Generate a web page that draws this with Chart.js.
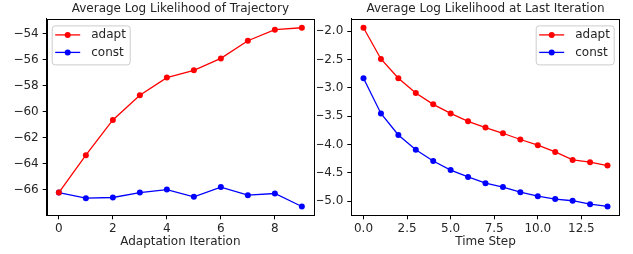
<!DOCTYPE html>
<html lang="en">
  <head>
    <meta charset="UTF-8" />
    <title>Average Log Likelihood</title>
    <script src="https://cdn.jsdelivr.net/npm/chart.js"></script>
    <style>
      body {
        margin: 0;
        background: #ffffff;
      }
      .wrap {
        position: relative;
        width: 633px;
        height: 254px;
      }
      .panel {
        position: absolute;
        top: 0;
        height: 254px;
      }
    </style>
  </head>
  <body>
    <div class="wrap">
      <div class="panel" style="left: 0; width: 317px">
        <canvas id="trajChart"></canvas>
      </div>
      <div class="panel" style="left: 317px; width: 316px">
        <canvas id="lastChart"></canvas>
      </div>
    </div>
    <script>
      // left panel: per adaptation iteration
      const iterSteps = [0, 1, 2, 3, 4, 5, 6, 7, 8, 9];
      const trajAdapt = [-66.23, -63.35, -60.64, -58.74, -57.38, -56.82, -55.9, -54.54, -53.69, -53.54];
      const trajConst = [-66.23, -66.66, -66.61, -66.23, -66.0, -66.56, -65.81, -66.43, -66.3, -67.3];
      const trajXTicks = [0, 2, 4, 6, 8];
      const trajYTicks = [-66, -64, -62, -60, -58, -56, -54];

      // right panel: per time step
      const timeSteps = [0, 1, 2, 3, 4, 5, 6, 7, 8, 9, 10, 11, 12, 13, 14];
      const lastAdapt = [-1.94, -2.49, -2.83, -3.09, -3.29, -3.45, -3.59, -3.7, -3.8, -3.91, -4.01, -4.13, -4.27, -4.31, -4.37];
      const lastConst = [-2.83, -3.45, -3.83, -4.09, -4.29, -4.45, -4.57, -4.68, -4.75, -4.84, -4.91, -4.96, -4.99, -5.05, -5.09];
      const lastXTicks = [0, 2.5, 5, 7.5, 10, 12.5];
      const lastYTicks = [-5.0, -4.5, -4.0, -3.5, -3.0, -2.5, -2.0];

      const FONT = "DejaVu Sans";

      function minus(s) {
        return s.replace("-", "\u2212");
      }

      // box around plot area + matplotlib style legend inside it
      const framePlugin = {
        id: "frame",
        afterDraw(chart, args, opts) {
          const ctx = chart.ctx;
          const a = chart.chartArea;
          ctx.save();
          ctx.strokeStyle = "#000";
          ctx.lineWidth = 1;
          ctx.strokeRect(Math.round(a.left) + 0.5, Math.round(a.top) + 0.5,
            Math.round(a.right - a.left), Math.round(a.bottom - a.top));

          // legend
          const w = 78, h = 39;
          const bx = opts.side === "left" ? a.left + 5 : a.right - 6 - w;
          const by = a.top + 6.5;
          ctx.fillStyle = "rgba(255,255,255,0.8)";
          ctx.strokeStyle = "#cccccc";
          ctx.beginPath();
          ctx.roundRect(bx + 0.5, by + 0.5, w, h, 3);
          ctx.fill();
          ctx.stroke();
          ctx.font = "12px '" + FONT + "'";
          ctx.textBaseline = "middle";
          chart.data.datasets.forEach((ds, i) => {
            const ry = by + 9.5 + i * 17.5;
            ctx.strokeStyle = ds.borderColor;
            ctx.lineWidth = 1.3;
            ctx.beginPath();
            ctx.moveTo(bx + 3.5, ry);
            ctx.lineTo(bx + 28.5, ry);
            ctx.stroke();
            ctx.fillStyle = ds.borderColor;
            ctx.beginPath();
            ctx.arc(bx + 16, ry, 3, 0, Math.PI * 2);
            ctx.fill();
            ctx.fillStyle = "#262626";
            ctx.fillText(ds.label, bx + 39.5, ry);
          });
          ctx.restore();
        },
      };

      function makeChart(id, opt) {
        const ds = (label, data, color) => ({
          label: label,
          data: opt.x.map((x, i) => ({ x: x, y: data[i] })),
          borderColor: color,
          backgroundColor: color,
          borderWidth: 1.3,
          pointRadius: 3,
          pointBorderWidth: 0,
          pointHoverRadius: 3,
          tension: 0,
        });
        new Chart(document.getElementById(id), {
          type: "line",
          data: {
            datasets: [ds("adapt", opt.adapt, "#ff0000"), ds("const", opt.cons, "#0000ff")],
          },
          plugins: [framePlugin],
          options: {
            responsive: false,
            animation: false,
            devicePixelRatio: 1,
            layout: { padding: { left: 0, right: opt.padRight, top: 0, bottom: 0 } },
            plugins: {
              legend: { display: false },
              tooltip: { enabled: false },
              frame: { side: opt.legendSide },
              title: {
                display: true,
                text: opt.title,
                fullSize: false,
                color: "#262626",
                font: { family: FONT, size: 12, weight: "normal" },
                padding: { top: 2, bottom: 2.5 },
              },
            },
            scales: {
              x: {
                type: "linear",
                min: opt.xMin,
                max: opt.xMax,
                afterBuildTicks: (s) => {
                  s.ticks = opt.xTicks.map((v) => ({ value: v }));
                },
                afterFit: (s) => {
                  s.height = 38.7;
                },
                ticks: {
                  color: "#262626",
                  padding: 2,
                  maxRotation: 0,
                  font: { family: FONT, size: 12 },
                  callback: (v) => minus(opt.xFmt(v)),
                },
                grid: { drawOnChartArea: false, drawTicks: true, tickLength: 4, color: "#000" },
                border: { display: true, color: "#000" },
                title: {
                  display: true,
                  text: opt.xTitle,
                  color: "#262626",
                  font: { family: FONT, size: 12 },
                  padding: { top: 0, bottom: 5 },
                },
              },
              y: {
                type: "linear",
                min: opt.yMin,
                max: opt.yMax,
                afterBuildTicks: (s) => {
                  s.ticks = opt.yTicks.map((v) => ({ value: v }));
                },
                afterFit: (s) => {
                  s.width = opt.yWidth;
                },
                ticks: {
                  color: "#262626",
                  padding: 4,
                  font: { family: FONT, size: 12 },
                  callback: (v) => minus(opt.yFmt(v)),
                },
                grid: { drawOnChartArea: false, drawTicks: true, tickLength: 4, color: "#000" },
                border: { display: true, color: "#000" },
              },
            },
          },
        });
      }

      const trajCanvas = document.getElementById("trajChart");
      trajCanvas.width = 317;
      trajCanvas.height = 254;
      const lastCanvas = document.getElementById("lastChart");
      lastCanvas.width = 316;
      lastCanvas.height = 254;

      makeChart("trajChart", {
        title: "Average Log Likelihood of Trajectory",
        xTitle: "Adaptation Iteration",
        x: iterSteps,
        adapt: trajAdapt,
        cons: trajConst,
        xTicks: trajXTicks,
        yTicks: trajYTicks,
        xMin: -0.45,
        xMax: 9.45,
        yMin: -67.98,
        yMax: -52.86,
        yWidth: 46.7,
        padRight: 2,
        legendSide: "left",
        xFmt: (v) => String(v),
        yFmt: (v) => String(v),
      });

      makeChart("lastChart", {
        title: "Average Log Likelihood at Last Iteration",
        xTitle: "Time Step",
        x: timeSteps,
        adapt: lastAdapt,
        cons: lastConst,
        xTicks: lastXTicks,
        yTicks: lastYTicks,
        xMin: -0.7,
        xMax: 14.7,
        yMin: -5.247,
        yMax: -1.783,
        yWidth: 34.3,
        padRight: 13.3,
        legendSide: "right",
        xFmt: (v) => v.toFixed(1),
        yFmt: (v) => v.toFixed(1),
      });
    </script>
  </body>
</html>
